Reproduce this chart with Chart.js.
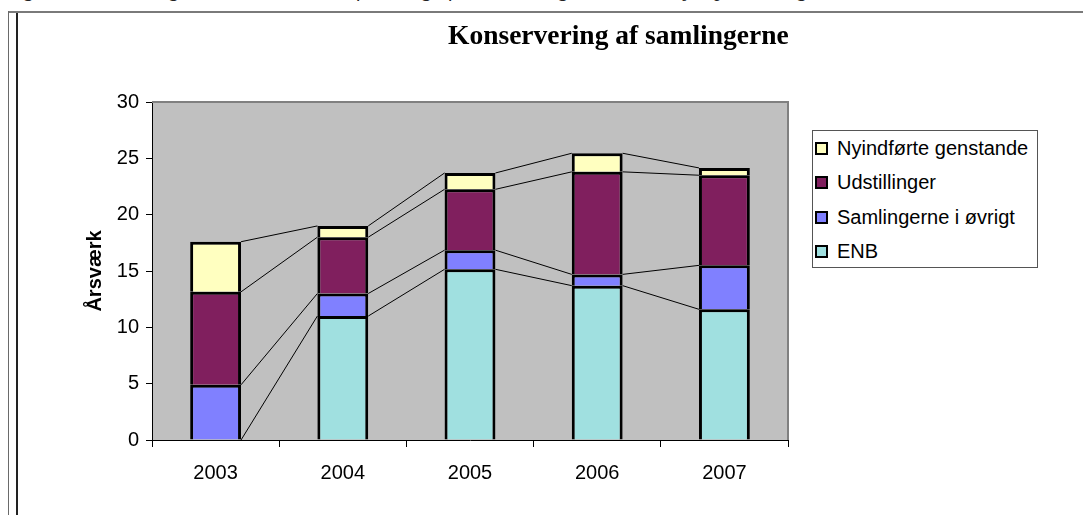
<!DOCTYPE html>
<html lang="da">
<head>
<meta charset="utf-8">
<title>Konservering af samlingerne</title>
<script src="https://cdn.jsdelivr.net/npm/chart.js@4.4.1/dist/chart.umd.min.js"></script>
<style>
  html, body { margin: 0; padding: 0; background: #fff; overflow: hidden; }
  #wrap { position: relative; width: 1083px; height: 515px; overflow: hidden; }
  #chart { position: absolute; left: 0; top: 0; }
  .caption {
    position: absolute; left: 6px; top: -23px; white-space: nowrap;
    font: italic 21px "Liberation Serif", serif; color: #222;
  }
  .rule-top { position: absolute; left: 8px; top: 11px; width: 1075px; height: 2px; background: #7a7a7a; }
  .rule-l1 { position: absolute; left: 8px; top: 11px; width: 1px; height: 504px; background: #6a6a6a; }
  .rule-l2 { position: absolute; left: 16px; top: 13px; width: 2px; height: 502px; background: #222; }
  .title {
    position: absolute; left: 448px; top: 21px; white-space: nowrap;
    font: bold 27.5px "Liberation Serif", serif; line-height: 28px; color: #000;
  }
  #legend {
    position: absolute; left: 812px; top: 130px; width: 226px; height: 138px;
    box-sizing: border-box; border: 1px solid #555; background: #fff;
    font: 20px "Liberation Sans", Arial, sans-serif; color: #000;
  }
  #legend .row { display: flex; align-items: center; height: 34.5px; padding-left: 2px; }
  #legend .box { width: 13px; height: 13px; box-sizing: border-box; border: 2px solid #000; margin-right: 9px; }
</style>
</head>
<body>
<div id="wrap">
  <div class="caption">Figur 4.3: Udvikling i årsværk, herunder fordeling af konserveringsstabens arbejde på samlingerne</div>
  <div class="rule-top"></div>
  <div class="rule-l1"></div>
  <div class="rule-l2"></div>
  <canvas id="chart" width="1083" height="515"></canvas>
  <div class="title">Konservering af samlingerne</div>
  <div id="legend"></div>
</div>
<script>
// data (årsværk per year, stacked bottom to top)
const years = ["2003", "2004", "2005", "2006", "2007"];
const enb = [0, 11.0, 15.15, 13.7, 11.6];
const samlinger = [4.9, 2.0, 1.7, 1.0, 3.9];
const udstillinger = [8.25, 5.0, 5.4, 9.1, 8.0];
const nyindfoerte = [4.45, 1.0, 1.45, 1.65, 0.65];

const seriesNames = ["ENB", "Samlingerne i øvrigt", "Udstillinger", "Nyindførte genstande"];
const seriesColors = ["#A0E0E0", "#8080FF", "#801F5E", "#FFFFC0"];
const yMax = 30;
const yStep = 5;

Chart.defaults.font.family = "'Liberation Sans', Arial, sans-serif";
Chart.defaults.color = "#000";

// gray plot background with the light border on top and right
const plotArea = {
  id: "plotArea",
  beforeDraw(chart) {
    const { ctx, chartArea: a } = chart;
    ctx.save();
    ctx.fillStyle = "#C0C0C0";
    ctx.fillRect(a.left, a.top, a.right - a.left, a.bottom - a.top);
    ctx.restore();
  },
  beforeDatasetsDraw(chart) {
    const { ctx, chartArea: a } = chart;
    ctx.save();
    ctx.strokeStyle = "#808080";
    ctx.lineWidth = 2;
    ctx.beginPath();
    ctx.moveTo(a.left, a.top);
    ctx.lineTo(a.right, a.top);
    ctx.lineTo(a.right, a.bottom);
    ctx.stroke();
    ctx.restore();
  },
};

// Excel style series lines between the tops of the stacked segments
const seriesLines = {
  id: "seriesLines",
  afterDatasetsDraw(chart) {
    const ctx = chart.ctx;
    ctx.save();
    ctx.strokeStyle = "#000";
    ctx.lineWidth = 1;
    chart.data.datasets.forEach((ds, d) => {
      const bars = chart.getDatasetMeta(d).data;
      for (let i = 0; i < bars.length - 1; i++) {
        const a = bars[i];
        const b = bars[i + 1];
        ctx.beginPath();
        ctx.moveTo(a.x + a.width / 2, a.y);
        ctx.lineTo(b.x - b.width / 2, b.y);
        ctx.stroke();
      }
    });
    ctx.restore();
  },
};

const seriesData = [enb, samlinger, udstillinger, nyindfoerte];

const chart = new Chart(document.getElementById("chart"), {
  type: "bar",
  data: {
    labels: years,
    datasets: seriesData.map((values, i) => ({
      label: seriesNames[i],
      data: values,
      backgroundColor: seriesColors[i],
      borderColor: "#000",
      borderWidth: 3,
      categoryPercentage: 1,
      barPercentage: 0.4,
    })),
  },
  options: {
    responsive: false,
    animation: false,
    layout: {
      padding: { left: 79, right: 295, top: 102, bottom: 0 },
    },
    plugins: {
      legend: { display: false },
      tooltip: { enabled: false },
      title: { display: false },
    },
    scales: {
      x: {
        stacked: true,
        grid: {
          offset: true,
          drawOnChartArea: false,
          tickLength: 7,
          tickColor: "#000",
        },
        border: { color: "#000", width: 1 },
        ticks: { font: { size: 20 }, padding: 14, color: "#000" },
        afterFit: function (scale) {
          scale.height = 75;
        },
      },
      y: {
        stacked: true,
        min: 0,
        max: yMax,
        grid: {
          drawOnChartArea: false,
          tickLength: 6,
          tickColor: "#000",
        },
        border: { color: "#000", width: 1 },
        ticks: { stepSize: yStep, font: { size: 20 }, padding: 7, color: "#000" },
        title: {
          display: true,
          text: "Årsværk",
          font: { size: 20, weight: "bold" },
          color: "#000",
          padding: { top: 4, bottom: 0 },
        },
        afterFit: function (scale) {
          scale.width = 73;
        },
      },
    },
  },
  plugins: [plotArea, seriesLines],
});

// legend box, top series first like the original
const legendEl = document.getElementById("legend");
chart.data.datasets.slice().reverse().forEach((ds) => {
  const row = document.createElement("div");
  row.className = "row";
  const box = document.createElement("span");
  box.className = "box";
  box.style.background = ds.backgroundColor;
  const text = document.createElement("span");
  text.textContent = ds.label;
  row.appendChild(box);
  row.appendChild(text);
  legendEl.appendChild(row);
});
</script>
</body>
</html>
